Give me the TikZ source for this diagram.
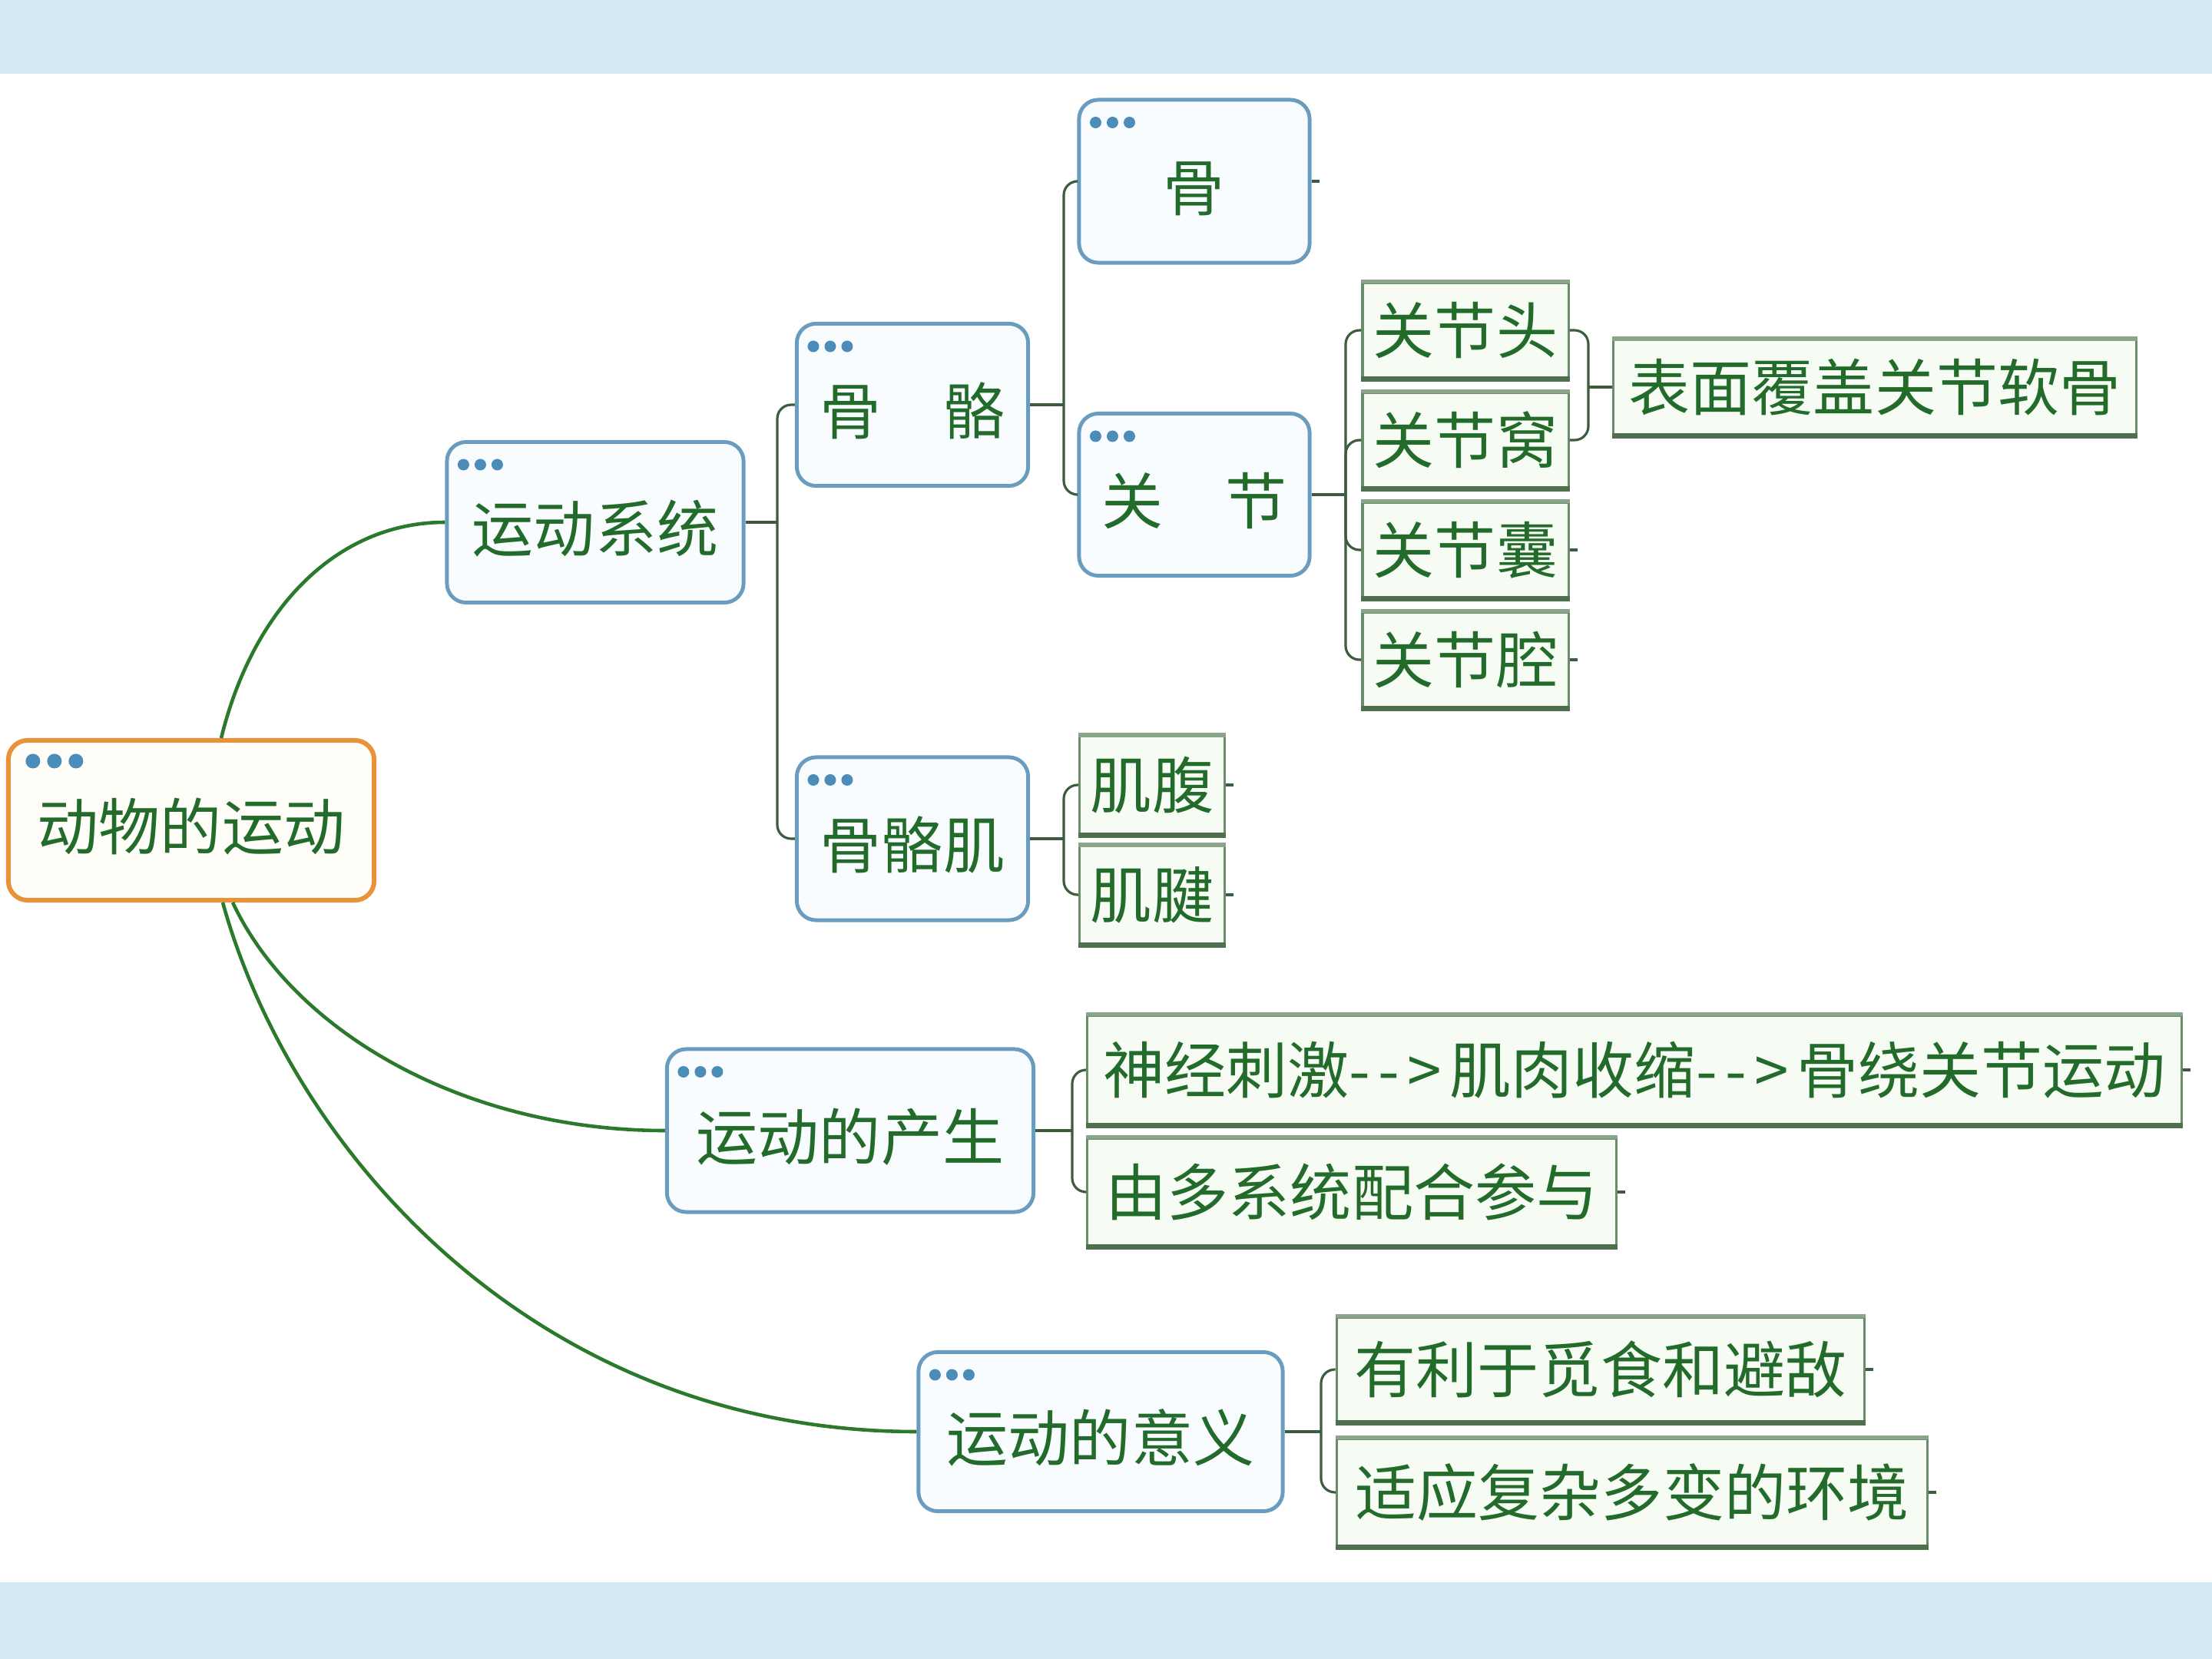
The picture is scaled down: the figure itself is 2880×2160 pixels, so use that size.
\documentclass[tikz,border=0pt]{standalone}
\usepackage{fontspec}
\newfontfamily\cjk{Noto Sans CJK SC}
\usetikzlibrary{calc}
\definecolor{band}{HTML}{D2E9F4}
\definecolor{mainblue}{HTML}{6A9CC0}
\definecolor{mainfill}{HTML}{F8FCFF}
\definecolor{rootorange}{HTML}{E8923A}
\definecolor{rootfill}{HTML}{FFFDF7}
\definecolor{leafgreen}{HTML}{6B8C6B}
\definecolor{leaftopc}{HTML}{8AA58A}
\definecolor{leafbotc}{HTML}{4F6F4F}
\definecolor{leaffill}{HTML}{F6FCF4}
\definecolor{txtgreen}{HTML}{236B2A}
\definecolor{dotblue}{HTML}{4B8CB8}
\definecolor{curvegreen}{HTML}{2B7A2B}
\definecolor{brkcol}{HTML}{3D5C3D}
\newcommand\tridots[1]{%
  \foreach \i in {0,1,2} \fill[dotblue] ($(#1.north west)+(24+\i*22,32)$) circle (0.075cm);}
\newcommand\arrowtxt{-\kern3pt-\kern3pt>\kern3pt}
\tikzset{
  cjkfont/.style={font=\cjk\fontsize{22.76pt}{26pt}\selectfont, text=txtgreen},
  mainbox/.style={cjkfont, draw=mainblue, line width=1.4pt, fill=mainfill,
    rounded corners=0.25cm, inner sep=0pt, text height=0.8cm, text depth=0.032cm},
  rootbox/.style={mainbox, draw=rootorange, line width=1.7pt, fill=rootfill},
  leafbox/.style={cjkfont, draw=leafgreen, line width=0.9pt, fill=leaffill,
    inner sep=0pt, text height=0.704cm, text depth=0.096cm},
  leaftop/.style={draw=leaftopc, line width=1.6pt},
  leafbot/.style={draw=leafbotc, line width=2pt},
  curve/.style={draw=curvegreen, line width=1.3pt},
  brk/.style={draw=brkcol, line width=0.9pt, rounded corners=0.18cm},
}
\begin{document}
\begin{tikzpicture}[x=0.01cm,y=-0.01cm]
\useasboundingbox (0,0) rectangle (2880,2160);
\fill[white] (0,0) rectangle (2880,2160);
\fill[band] (0,0) rectangle (2880,96);
\fill[band] (0,2060) rectangle (2880,2160);

% main nodes
\node[rootbox, minimum width=4.76cm, minimum height=2.08cm] (root) at (249,1068) {动物的运动};
\node[mainbox, minimum width=3.86cm, minimum height=2.09cm] (sys) at (775,680) {运动系统};
\node[mainbox, minimum width=3.01cm, minimum height=2.11cm] (gg) at (1188,527) {骨　骼};
\node[mainbox, minimum width=3.00cm, minimum height=2.12cm] (gu) at (1555,236) {骨};
\node[mainbox, minimum width=3.00cm, minimum height=2.11cm] (gj) at (1555,644) {关　节};
\node[mainbox, minimum width=3.01cm, minimum height=2.12cm] (ggj) at (1188,1092) {骨骼肌};
\node[mainbox, minimum width=4.77cm, minimum height=2.12cm] (cs) at (1107,1472) {运动的产生};
\node[mainbox, minimum width=4.74cm, minimum height=2.07cm] (yy) at (1433,1864) {运动的意义};

% dots
\foreach \i in {0,1,2} \fill[dotblue] ($(root.north west)+(35+\i*28,30)$) circle (0.095cm);
\tridots{sys}\tridots{gg}\tridots{gu}\tridots{gj}\tridots{ggj}\tridots{cs}\tridots{yy}

% leaves
\node[leafbox, minimum width=2.68cm, minimum height=1.24cm] (j1) at (1908,430) {关节头};
\node[leafbox, minimum width=2.68cm, minimum height=1.24cm] (j2) at (1908,573) {关节窝};
\node[leafbox, minimum width=2.68cm, minimum height=1.24cm] (j3) at (1908,716) {关节囊};
\node[leafbox, minimum width=2.68cm, minimum height=1.24cm] (j4) at (1908,859) {关节腔};
\node[leafbox, minimum width=6.80cm, minimum height=1.23cm] (bm) at (2441,504) {表面覆盖关节软骨};
\node[leafbox, minimum width=1.89cm, minimum height=1.27cm] (jf) at (1500,1022) {肌腹};
\node[leafbox, minimum width=1.89cm, minimum height=1.27cm] (jj) at (1500,1165) {肌腱};
\node[leafbox, minimum width=14.24cm, minimum height=1.42cm] (s1) at (2128,1393) {神经刺激\arrowtxt 肌肉收缩\arrowtxt 骨绕关节运动};
\node[leafbox, minimum width=6.89cm, minimum height=1.40cm] (s2) at (1760,1552) {由多系统配合参与};
\node[leafbox, minimum width=6.87cm, minimum height=1.36cm] (y1) at (2084,1783) {有利于觅食和避敌};
\node[leafbox, minimum width=7.68cm, minimum height=1.40cm] (y2) at (2125,1943) {适应复杂多变的环境};
\foreach \n in {j1,j2,j3,j4,bm,jf,jj,s1,s2,y1,y2} {
  \draw[leaftop] (\n.north west) -- (\n.north east);
  \draw[leafbot] (\n.south west) -- (\n.south east);
}

% root curves
\draw[curve] ([xshift=0.39cm]root.north) .. controls (330,790) and (440,680) .. (sys.west);
\draw[curve] ([xshift=0.54cm]root.south) .. controls (380,1340) and (600,1472) .. (cs.west);
\draw[curve] ([xshift=0.41cm]root.south) .. controls (380,1500) and (700,1864) .. (yy.west);

% bracket junctions
\coordinate (b1) at (1012,680);
\coordinate (b2) at (1385,527);
\coordinate (b3) at (1752,644);
\coordinate (b4) at (2068,504);
\coordinate (b5) at (1385,1092);
\coordinate (b6) at (1396,1472);
\coordinate (b7) at (1720,1864);

\draw[brk] (sys.east) -- (b1);
\draw[brk] (b1) |- (gg.west);
\draw[brk] (b1) |- (ggj.west);

\draw[brk] (gg.east) -- (b2);
\draw[brk] (b2) |- (gu.west);
\draw[brk] (b2) |- (gj.west);

\draw[brk] (gj.east) -- (b3);
\foreach \n in {j1,j2,j3,j4} \draw[brk] (b3) |- (\n.west);

\draw[brk] (b4) |- (j1.east);
\draw[brk] (b4) |- (j2.east);
\draw[brk] (b4) -- (bm.west);

\draw[brk] (ggj.east) -- (b5);
\draw[brk] (b5) |- (jf.west);
\draw[brk] (b5) |- (jj.west);

\draw[brk] (cs.east) -- (b6);
\draw[brk] (b6) |- (s1.west);
\draw[brk] (b6) |- (s2.west);

\draw[brk] (yy.east) -- (b7);
\draw[brk] (b7) |- (y1.west);
\draw[brk] (b7) |- (y2.west);

% small ticks on the right of end boxes
\foreach \n in {gu,j3,j4,jf,jj,s1,s2,y1,y2} \draw[brk] (\n.east) -- ++(10,0);
\end{tikzpicture}
\end{document}
